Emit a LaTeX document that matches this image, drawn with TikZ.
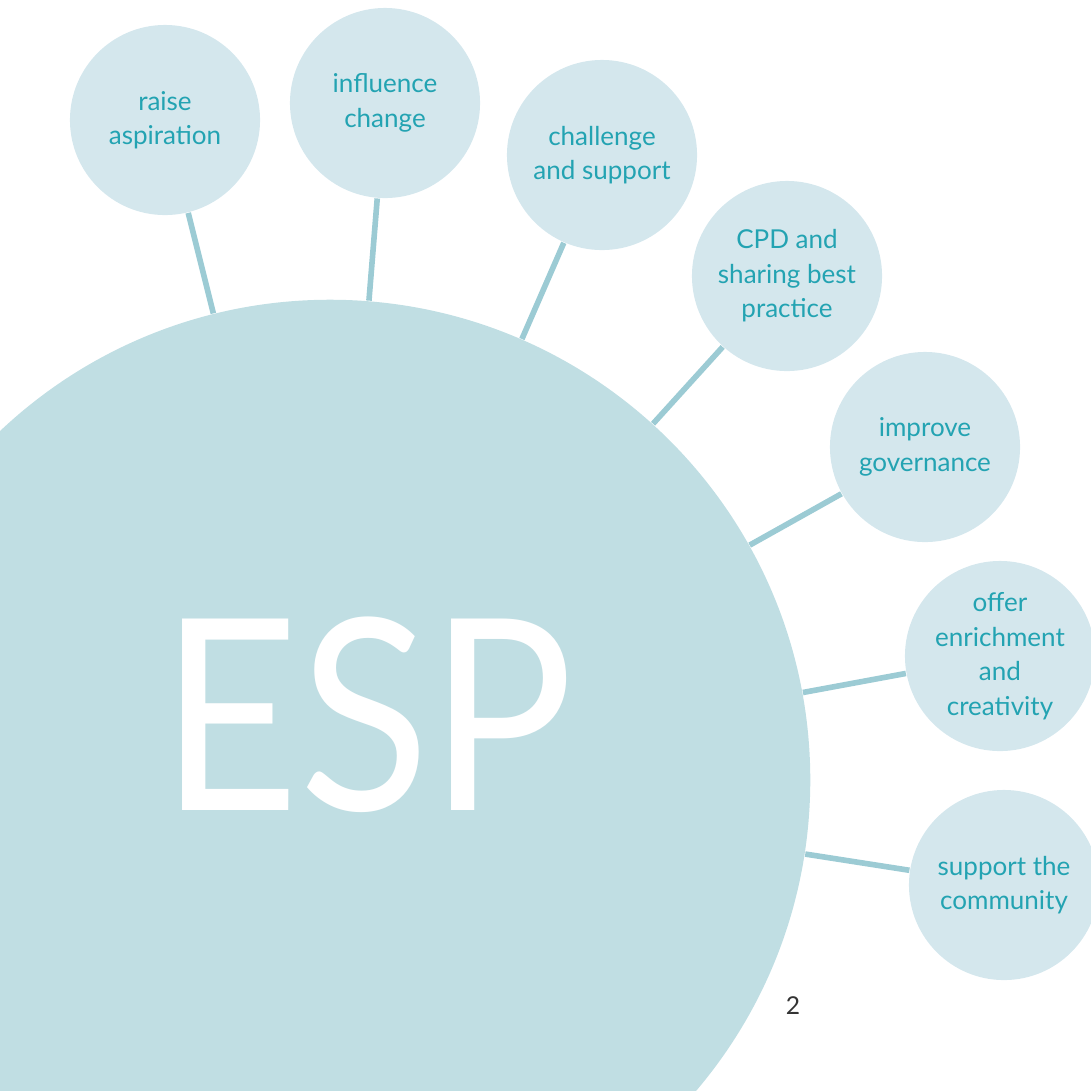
\documentclass[tikz,border=0pt]{standalone}
\usepackage{fontspec}
\setmainfont{Lato}
\definecolor{kreis}{HTML}{C0DEE3}
\definecolor{blase}{HTML}{D4E7ED}
\definecolor{linie}{HTML}{9CCBD4}
\definecolor{tuerkis}{HTML}{23A3B2}
\begin{document}
\begin{tikzpicture}[x=0.01cm, y=-0.01cm,
	blase/.style={circle, fill=blase, minimum size=1.9cm, inner sep=0pt, align=center, text=tuerkis, font=\fontsize{7.4}{9.8}\selectfont},
	verbindung/.style={draw=linie, line width=1.6pt}]
		% Rahmen
		\useasboundingbox (0,0) rectangle (1091,1090);
		\clip (0,0) rectangle (1091,1090);
		% grosser Kreis
		\node [circle, fill=kreis, minimum size=9.6cm, inner sep=0pt] (esp) at (330,780) {};
		\node [text=white, inner sep=0pt, font=\fontsize{76}{76}\selectfont] (esptext) at (367,715) {\scalebox{0.9}[1]{ESP}};
		% kleine Kreise
		\node [blase] (aspiration) at (165,120) {raise\\aspiration};
		\node [blase] (change) at (385,103) {influence\\change};
		\node [blase] (support) at (602,155) {challenge\\and support};
		\node [blase] (cpd) at (787,276) {CPD and\\sharing best\\practice};
		\node [blase] (governance) at (925,447) {improve\\governance};
		\node [blase] (enrichment) at (1000,656) {offer\\enrichment\\and\\creativity};
		\node [blase] (community) at (1004,885) {support the\\community};
		% Verbindungen
		\foreach \n in {aspiration, change, support, cpd, governance, enrichment, community}
			\draw [verbindung] (esp) -- (\n);
		% Seitenzahl
		\node [text=black!80, font=\fontsize{7}{8}\selectfont] (seite) at (793,1006) {2};
\end{tikzpicture}
\end{document}
